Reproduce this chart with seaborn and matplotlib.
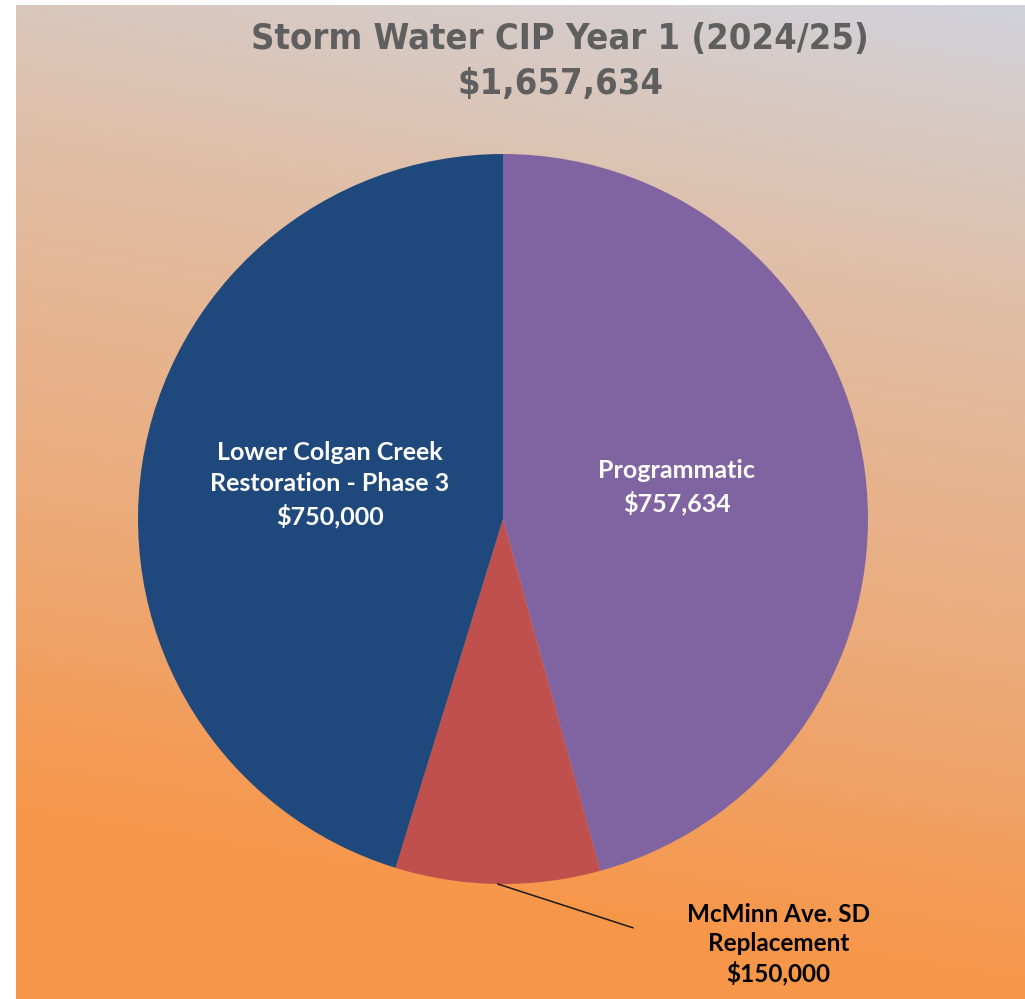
import numpy as np
import matplotlib
matplotlib.use("Agg")
import matplotlib.pyplot as plt
import seaborn as sns

# Storm Water CIP Year 1 budget split
projects = ["Programmatic", "McMinn Ave. SD\nReplacement", "Lower Colgan Creek\nRestoration - Phase 3"]
amounts = [757634, 150000, 750000]
slice_colors = ["#8064A2", "#C0504D", "#1F497D"]
title_line1 = "Storm Water CIP Year 1 (2024/25)"

sns.set_style("white")
plt.rcParams["font.family"] = ["Lato", "DejaVu Sans"]

W, H = 1025, 999
fig = plt.figure(figsize=(W / 100, H / 100), dpi=100)
fig.patch.set_facecolor("white")

# Gradient backdrop: grey-lavender at the top right fading to orange at the bottom
bg = fig.add_axes([16 / W, 0, (W - 16) / W, (H - 5) / H])
ny, nx = 400, 400
yy, xx = np.mgrid[0:1:ny * 1j, 0:1:nx * 1j]
t = np.clip(0.92 * yy + 0.16 * (1 - xx), 0, 1)
stops_t = [0.0, 0.2, 0.4, 0.6, 0.8, 0.92, 1.0]
stops_c = np.array([
    [209, 210, 219],
    [220, 196, 180],
    [229, 183, 150],
    [235, 172, 125],
    [242, 158, 92],
    [247, 150, 72],
    [247, 150, 72],
]) / 255.0
img = np.zeros((ny, nx, 3))
for ch in range(3):
    img[..., ch] = np.interp(t, stops_t, stops_c[:, ch])
bg.imshow(img, aspect="auto", extent=[0, 1, 0, 1], origin="upper")
bg.set_axis_off()

# Pie
cx, cy, r = 503, 519, 365
ax = fig.add_axes([(cx - r) / W, 1 - (cy + r) / H, 2 * r / W, 2 * r / H])
ax.set_facecolor("none")
wedges, _ = ax.pie(amounts, colors=slice_colors, startangle=90, counterclock=False,
                   radius=1, wedgeprops=dict(linewidth=0))
ax.set_xlim(-1, 1)
ax.set_ylim(-1, 1)
ax.set_aspect("equal")
ax.set_axis_off()

def money(v):
    return "${:,.0f}".format(v)

for i, (w, name, val) in enumerate(zip(wedges, projects, amounts)):
    mid = np.deg2rad((w.theta1 + w.theta2) / 2)
    mx, my = np.cos(mid), np.sin(mid)
    text = name + "\n" + money(val)
    if i == 1:
        # outside label with leader line
        tx, ty = 0.755, -1.165
        ax.plot([mx, 0.356], [my, -1.12], color="#1a1a1a", lw=1.1, clip_on=False)
        ax.text(tx, ty, text, ha="center", va="center", color="black",
                fontsize=17.5, fontweight="bold", linespacing=1.3, clip_on=False)
    else:
        d = 0.48
        ax.text(d * mx, d * my + 0.022, text, ha="center", va="center", color="white",
                fontsize=18, fontweight="bold", linespacing=1.42)

title_font = dict(ha="center", va="center", color="#5f5f5f", fontsize=26,
                  fontweight="bold", fontstretch="condensed", family="DejaVu Sans")
fig.text(560 / W, 1 - 39 / H, title_line1, **title_font)
fig.text(560 / W, 1 - 84 / H, money(sum(amounts)), **title_font)

fig.savefig("out.png", dpi=100, facecolor=fig.get_facecolor())
